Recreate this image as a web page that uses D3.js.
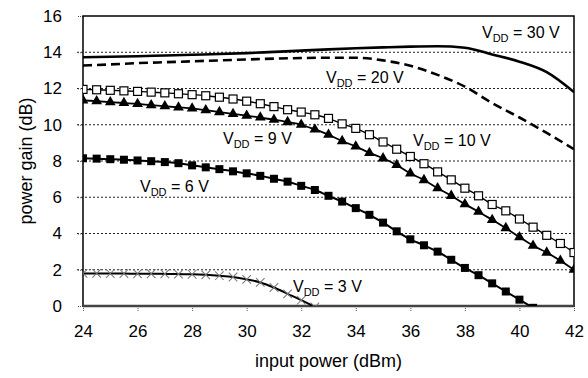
<!DOCTYPE html>
<html>
<head>
<meta charset="utf-8">
<script src="https://cdn.jsdelivr.net/npm/d3@7"></script>
<style>
  body { margin: 0; background: #fff; }
  text { font-family: "Liberation Sans", Arial, sans-serif; fill: #000; }
</style>
</head>
<body>
<div id="chart"></div>
<script>
// power gain vs input power, one curve per drain voltage

// x values for the curves with markers (0.5 dBm steps)
const pinFine = [24, 24.5, 25, 25.5, 26, 26.5, 27, 27.5, 28, 28.5, 29, 29.5, 30, 30.5, 31, 31.5,
  32, 32.5, 33, 33.5, 34, 34.5, 35, 35.5, 36, 36.5, 37, 37.5, 38, 38.5, 39, 39.5, 40, 40.5, 41, 41.5, 42];
// x values for the plain lines (1 dBm steps)
const pinCoarse = [24, 25, 26, 27, 28, 29, 30, 31, 32, 33, 34, 35, 36, 37, 38, 39, 40, 41, 42];

const gain30 = [13.72, 13.75, 13.78, 13.82, 13.86, 13.9, 13.95, 14.02, 14.09, 14.16, 14.22, 14.27,
  14.31, 14.33, 14.25, 13.88, 13.48, 12.9, 11.8];
const gain20 = [13.27, 13.33, 13.4, 13.45, 13.5, 13.55, 13.6, 13.65, 13.68, 13.7, 13.7, 13.55,
  13.25, 12.75, 12.1, 11.2, 10.4, 9.55, 8.65];
const gain10 = [11.95, 11.93, 11.9, 11.87, 11.84, 11.8, 11.76, 11.71, 11.66, 11.6, 11.52, 11.42,
  11.3, 11.16, 11.0, 10.83, 10.7, 10.55, 10.35, 10.05, 9.8, 9.45, 9.05, 8.65, 8.25, 7.85, 7.4,
  6.96, 6.5, 6.08, 5.6, 5.25, 4.8, 4.35, 3.9, 3.45, 2.95];
const gain9 = [11.35, 11.3, 11.25, 11.2, 11.15, 11.08, 11.02, 10.96, 10.9, 10.8, 10.7, 10.6,
  10.5, 10.4, 10.28, 10.15, 10.0, 9.74, 9.45, 9.1, 8.8, 8.45, 8.15, 7.78, 7.32, 6.95, 6.5, 6.08,
  5.62, 5.2, 4.75, 4.3, 3.8, 3.33, 2.95, 2.5, 2.0];
const gain6 = [8.15, 8.13, 8.1, 8.07, 8.03, 7.99, 7.94, 7.88, 7.76, 7.65, 7.55, 7.43, 7.32, 7.18,
  7.02, 6.86, 6.63, 6.4, 6.08, 5.76, 5.4, 5.03, 4.6, 4.12, 3.68, 3.35, 3.0, 2.55, 2.1, 1.7, 1.25,
  0.8, 0.35, -0.1];
const gain3 = [1.8, 1.8, 1.79, 1.79, 1.78, 1.78, 1.77, 1.76, 1.75, 1.72, 1.67, 1.6, 1.47, 1.3,
  1.02, 0.67, 0.32, -0.05];

const xTicks = [24, 26, 28, 30, 32, 34, 36, 38, 40, 42];
const yTicks = [0, 2, 4, 6, 8, 10, 12, 14, 16];

const W = 588, H = 378;
const margin = {top: 16, right: 14, bottom: 72, left: 83};

const svg = d3.select("#chart").append("svg")
  .attr("width", W)
  .attr("height", H);

const x = d3.scaleLinear().domain([24, 42]).range([margin.left, W - margin.right]);
const y = d3.scaleLinear().domain([0, 16]).range([H - margin.bottom, margin.top]);

svg.append("clipPath").attr("id", "plot")
  .append("rect")
  .attr("x", x(24)).attr("y", y(16))
  .attr("width", x(42) - x(24)).attr("height", y(0) - y(16));

// dotted grid lines
svg.append("g")
  .selectAll("line")
  .data(yTicks.filter(v => v > 0 && v < 16))
  .join("line")
  .attr("x1", x(24) - 6).attr("x2", x(42))
  .attr("y1", d => y(d)).attr("y2", d => y(d))
  .attr("stroke", "#222")
  .attr("stroke-width", 1)
  .attr("stroke-dasharray", "2,2");

// axes, ticks drawn by d3
const xAxis = svg.append("g")
  .attr("transform", `translate(0,${y(0)})`)
  .call(d3.axisBottom(x).tickValues(xTicks).tickSize(5).tickPadding(14));
const yAxis = svg.append("g")
  .attr("transform", `translate(${x(24)},0)`)
  .call(d3.axisLeft(y).tickValues(yTicks).tickSize(6).tickPadding(15));

[xAxis, yAxis].forEach(ax => {
  ax.select(".domain").remove();
  ax.selectAll(".tick line").attr("stroke", "#555").attr("stroke-dasharray", "1,1");
  ax.selectAll(".tick text")
    .style("font-size", "17px")
    .style("font-family", "'Liberation Sans', Arial, sans-serif")
    .attr("fill", "#000");
});

// frame round the plot
svg.append("rect")
  .attr("x", x(24)).attr("y", y(16))
  .attr("width", x(42) - x(24)).attr("height", y(0) - y(16))
  .attr("fill", "none")
  .attr("stroke", "#000")
  .attr("stroke-width", 1.5);
svg.append("line")
  .attr("x1", x(24)).attr("x2", x(42))
  .attr("y1", y(0)).attr("y2", y(0))
  .attr("stroke", "#444").attr("stroke-width", 2.5);

const plot = svg.append("g").attr("clip-path", "url(#plot)");

const line = d3.line()
  .x(d => x(d[0]))
  .y(d => y(d[1]))
  .curve(d3.curveMonotoneX);

const pairs = (xs, ys) => ys.map((v, i) => [xs[i], v]);

// plain lines
plot.append("path")
  .attr("d", line(pairs(pinCoarse, gain30)))
  .attr("fill", "none").attr("stroke", "#000").attr("stroke-width", 2.6);
plot.append("path")
  .attr("d", line(pairs(pinCoarse, gain20)))
  .attr("fill", "none").attr("stroke", "#000").attr("stroke-width", 2.6)
  .attr("stroke-dasharray", "9,5");

// marker series
const series = [
  {data: pairs(pinFine, gain10), marker: "openSquare", width: 1.4},
  {data: pairs(pinFine, gain9), marker: "triangle", width: 1.8},
  {data: pairs(pinFine, gain6), marker: "square", width: 2},
  {data: pairs(pinFine, gain3), marker: "cross", width: 2}
];

series.forEach(s => {
  plot.append("path")
    .attr("d", line(s.data))
    .attr("fill", "none").attr("stroke", "#000").attr("stroke-width", s.width);

  const g = plot.append("g");
  if (s.marker === "openSquare") {
    g.selectAll("rect").data(s.data).join("rect")
      .attr("x", d => x(d[0]) - 4).attr("y", d => y(d[1]) - 4)
      .attr("width", 8).attr("height", 8)
      .attr("fill", "#fff").attr("stroke", "#000").attr("stroke-width", 1.2);
  } else if (s.marker === "square") {
    g.selectAll("rect").data(s.data).join("rect")
      .attr("x", d => x(d[0]) - 4).attr("y", d => y(d[1]) - 4)
      .attr("width", 8).attr("height", 8)
      .attr("fill", "#000");
  } else if (s.marker === "triangle") {
    g.selectAll("path").data(s.data).join("path")
      .attr("transform", d => `translate(${x(d[0])},${y(d[1])})`)
      .attr("d", d3.symbol(d3.symbolTriangle, 50))
      .attr("fill", "#000");
  } else {
    g.selectAll("path").data(s.data).join("path")
      .attr("transform", d => `translate(${x(d[0])},${y(d[1])}) rotate(45)`)
      .attr("d", d3.symbol(d3.symbolCross2 || d3.symbolPlus, 50))
      .attr("fill", "none").attr("stroke", "#777").attr("stroke-width", 1);
  }
});

// curve labels
const labels = [
  {v: "30", x: 482, y: 38},
  {v: "20", x: 326, y: 83},
  {v: "9", x: 223, y: 144},
  {v: "10", x: 413, y: 146},
  {v: "6", x: 140, y: 192},
  {v: "3", x: 293, y: 292}
];
labels.forEach(l => {
  const t = svg.append("text")
    .attr("x", l.x).attr("y", l.y)
    .style("font-size", "16px");
  t.append("tspan").text("V");
  t.append("tspan").attr("dy", 4).style("font-size", "11px").text("DD");
  t.append("tspan").attr("dy", -4).text(` = ${l.v} V`);
});

// axis titles
svg.append("text")
  .attr("x", (x(24) + x(42)) / 2).attr("y", 367)
  .attr("text-anchor", "middle")
  .style("font-size", "18px")
  .text("input power (dBm)");
svg.append("text")
  .attr("transform", `translate(32,${(y(0) + y(16)) / 2}) rotate(-90)`)
  .attr("text-anchor", "middle")
  .style("font-size", "18px")
  .text("power gain (dB)");
</script>
</body>
</html>
